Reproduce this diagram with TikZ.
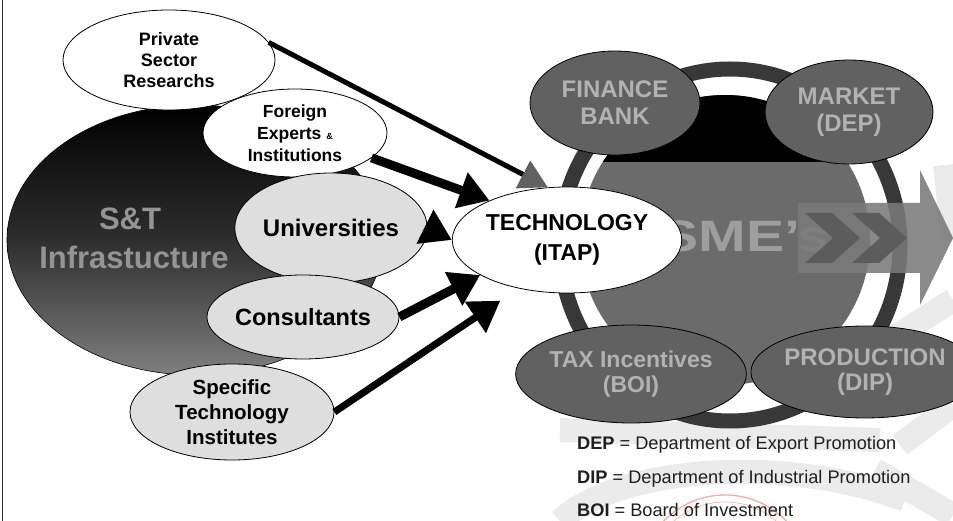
\documentclass[tikz,border=0pt]{standalone}
\usepackage{fontspec}
\setmainfont{Liberation Sans}
\usetikzlibrary{arrows.meta,shapes.geometric}
\begin{document}
\begin{tikzpicture}[x=1pt,y=-1pt,
  wm/.style={draw=black!8, line width=24pt},
  srcwhite/.style={ellipse, draw=black, line width=0.8pt, fill=white, inner sep=0pt, align=center},
  srcgray/.style={ellipse, draw=black, line width=0.8pt, fill=black!13, inner sep=0pt, align=center},
  satellite/.style={ellipse, draw=black, line width=0.8pt, fill=black!62, inner sep=0pt, align=center, text=black!30},
  bigtxt/.style={font=\bfseries\fontsize{31}{31}\selectfont, text=black!42, inner sep=0pt},
  thickarrow/.style={line width=9pt, -{Triangle[length=30pt,width=36pt]}},
  thinarrow/.style={line width=5pt, -{Triangle[length=28pt,width=30pt,color=black!62]}},
  legend/.style={anchor=west, inner sep=0pt, text=black!88, font=\fontsize{18.2}{20}\selectfont}
]
\useasboundingbox (0,0) rectangle (953,521);
\fill[white] (0,0) rectangle (953,521);

% watermark (light background bands)
\draw[wm] (560,521) .. controls (620,465) and (790,455) .. (905,500);
\draw[wm] (560,430) -- (880,440);
\draw[wm] (953,300) -- (878,348);
\draw[wm] (953,405) -- (900,445);
\draw[wm] (875,470) -- (953,515);
\draw[wm] (945,165) -- (953,240);
\draw[red!35, line width=1.3pt] (725,580) circle[radius=85pt];
\draw[red!30, line width=0.8pt] (725,580) circle[radius=78pt];

% left border of the scan
\draw[line width=1pt, black!80] (2,0) -- (2,521);

% SME ring and disk
\draw[line width=15pt, black!78] (730,245) ellipse[x radius=170pt, y radius=176pt];
\fill[black!58] (725,240) circle[radius=145pt];
\begin{scope}
  \clip (570,80) rectangle (880,162);
  \fill[black] (725,240) circle[radius=145pt];
\end{scope}
\node[inner sep=0pt, text=black!38, font=\bfseries\fontsize{44}{44}\selectfont\addfontfeatures{FakeStretch=1.3}] (sme) at (745,236) {SME's};

% big output arrow
\fill[black!52, fill opacity=0.88] (798,203) -- (920,203) -- (920,170) -- (953,238) -- (920,305) -- (920,273) -- (798,273) -- cycle;
\fill[black!64] (805,213) -- (832,213) -- (860,238) -- (832,263) -- (805,263) -- (833,238) -- cycle;
\fill[black!64] (852,213) -- (879,213) -- (907,238) -- (879,263) -- (852,263) -- (880,238) -- cycle;

% satellites
\node[satellite, minimum width=170pt, minimum height=104pt, font=\bfseries\fontsize{24}{27}\selectfont] (finance) at (615,103) {FINANCE\\BANK};
\node[satellite, minimum width=168pt, minimum height=104pt, font=\bfseries\fontsize{24}{27}\selectfont] (market) at (849,112) {MARKET\\(DEP)};
\node[satellite, minimum width=172pt, minimum height=98pt, font=\bfseries\fontsize{23}{25}\selectfont] (tax) at (631,374) {TAX Incentives\\(BOI)};
\node[satellite, minimum width=176pt, minimum height=92pt, font=\bfseries\fontsize{24}{25}\selectfont] (prod) at (865,372) {PRODUCTION\\(DIP)};

% S&T infrastructure
\node[ellipse, minimum width=376pt, minimum height=270pt, inner sep=0pt, draw=black, line width=0.6pt,
      top color=black, bottom color=black!50, middle color=black!82] (st) at (195,240) {};
\node[bigtxt] (stt) at (130,219) {S\&T};
\node[bigtxt] (sti) at (134,257) {Infrastucture};

% sources
\node[srcwhite, minimum width=212pt, minimum height=100pt, font=\bfseries\fontsize{18}{21}\selectfont] (private) at (169,60) {Private\\Sector\\Researchs};
\node[srcwhite, minimum width=184pt, minimum height=88pt, font=\bfseries\fontsize{17.5}{22}\selectfont] (foreign) at (295,133) {Foreign\\Experts {\fontsize{9}{9}\selectfont\&}\\Institutions};
\node[srcgray, minimum width=180pt, minimum height=110pt, font=\bfseries\fontsize{24}{24}\selectfont] (univ) at (331,228) {Universities};
\node[srcgray, minimum width=184pt, minimum height=84pt, font=\bfseries\fontsize{23.5}{24}\selectfont] (cons) at (303,317) {Consultants};
\node[srcgray, minimum width=204pt, minimum height=96pt, font=\bfseries\fontsize{20.5}{25}\selectfont] (spec) at (232,412) {Specific\\Technology\\Institutes};

% technology
\node[srcwhite, minimum width=200pt, minimum height=106pt, font=\bfseries\fontsize{23}{30}\selectfont] (tech) at (567,240) {TECHNOLOGY\\(ITAP)};

% arrows
\draw[thinarrow] (private.10) -- (tech.110);
\draw[thickarrow] (foreign.-18) -- (tech.153);
\draw[thickarrow] (univ.east) -- (tech.west);
\draw[thickarrow] (cons.east) -- (tech.202);
\draw[thickarrow, line width=7pt, shorten >=22pt] (spec.east) -- (tech.225);

% legend
\node[legend] (dep) at (577,445) {\textbf{DEP} = Department of Export Promotion};
\node[legend] (dip) at (577,479) {\textbf{DIP} = Department of Industrial Promotion};
\node[legend] (boi) at (577,510) {\textbf{BOI} = Board of Investment};
\end{tikzpicture}
\end{document}
